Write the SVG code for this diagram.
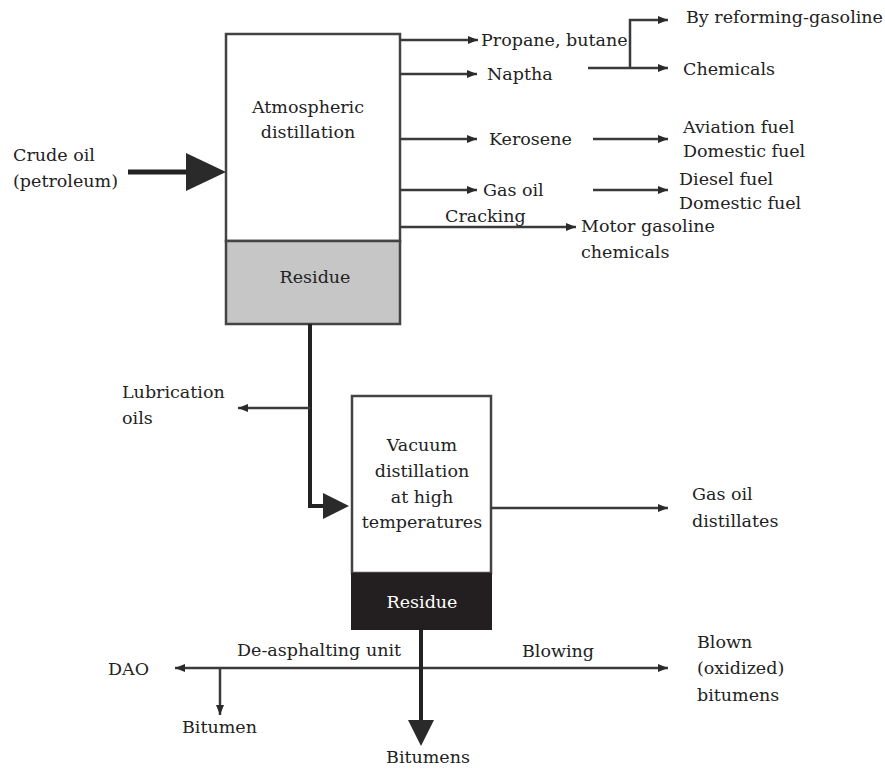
<svg xmlns="http://www.w3.org/2000/svg" width="885" height="769" viewBox="0 0 885 769">
<style>
text{font-family:"DejaVu Serif","Liberation Serif",serif;font-size:17.5px;fill:#222}
.c{text-anchor:middle}
.ln{stroke:#3a3a3a;stroke-width:2.5;fill:none}
.thk{stroke:#222;stroke-width:5;fill:none}
.box{stroke:#444;stroke-width:2.5}
.ah{fill:#2a2a2a}
</style>
<defs>
<marker id="a" viewBox="0 0 10 8" refX="10" refY="4" markerWidth="10" markerHeight="8" markerUnits="userSpaceOnUse" orient="auto">
<path d="M0,0 L10,4 L0,8 Z" fill="#2a2a2a"/>
</marker>
</defs>
<rect width="885" height="769" fill="#fff"/>

<g id="crude">
<text x="13" y="161">Crude oil</text>
<text x="13" y="187">(petroleum)</text>
</g>

<g id="atmospheric">
<rect class="box" x="226" y="34" width="174" height="207" fill="#fff"/>
<text class="c" x="308" y="113">Atmospheric</text>
<text class="c" x="308" y="138">distillation</text>
</g>
<g id="residue1">
<rect class="box" x="226" y="241" width="174" height="83" fill="#c6c6c6"/>
<text class="c" x="315" y="283">Residue</text>
</g>

<g id="products">
<text x="481" y="46">Propane, butane</text>
<text x="487" y="80">Naptha</text>
<text x="489" y="145">Kerosene</text>
<text x="483" y="196">Gas oil</text>
<text x="445" y="222">Cracking</text>
<text x="581" y="232">Motor gasoline</text>
<text x="581" y="258">chemicals</text>
<text x="686" y="23">By reforming-gasoline</text>
<text x="683" y="75">Chemicals</text>
<text x="683" y="133">Aviation fuel</text>
<text x="683" y="157">Domestic fuel</text>
<text x="679" y="185">Diesel fuel</text>
<text x="679" y="209">Domestic fuel</text>
</g>

<g id="lubrication">
<text x="122" y="398">Lubrication</text>
<text x="122" y="424">oils</text>
</g>

<g id="vacuum">
<rect class="box" x="352" y="396" width="139" height="177" fill="#fff"/>
<text class="c" x="422" y="451">Vacuum</text>
<text class="c" x="422" y="477">distillation</text>
<text class="c" x="422" y="503">at high</text>
<text class="c" x="422" y="528">temperatures</text>
</g>
<g id="residue2">
<rect x="351" y="573" width="141" height="57" fill="#231f20"/>
<text class="c" x="422" y="608" style="fill:#fff">Residue</text>
</g>

<g id="vacprod">
<text x="692" y="500">Gas oil</text>
<text x="692" y="527">distillates</text>
<text x="108" y="675">DAO</text>
<text x="237" y="656">De-asphalting unit</text>
<text x="182" y="733">Bitumen</text>
<text class="c" x="428" y="763">Bitumens</text>
<text x="522" y="657">Blowing</text>
<text x="697" y="648">Blown</text>
<text x="697" y="674">(oxidized)</text>
<text x="697" y="701">bitumens</text>
</g>

<g id="connectors">
<line class="thk" x1="128" y1="172" x2="188" y2="172"/>
<path class="ah" d="M186,153 L226,172 L186,191 Z"/>
<line class="ln" x1="400" y1="40" x2="478" y2="40" marker-end="url(#a)"/>
<line class="ln" x1="400" y1="74" x2="477" y2="74" marker-end="url(#a)"/>
<line class="ln" x1="400" y1="139" x2="477" y2="139" marker-end="url(#a)"/>
<line class="ln" x1="400" y1="190" x2="477" y2="190" marker-end="url(#a)"/>
<line class="ln" x1="400" y1="227" x2="576" y2="227" marker-end="url(#a)"/>
<polyline class="ln" points="588,68 630,68"/>
<polyline class="ln" points="630,68 630,20 668,20" marker-end="url(#a)"/>
<line class="ln" x1="630" y1="68" x2="668" y2="68" marker-end="url(#a)"/>
<line class="ln" x1="593" y1="139" x2="668" y2="139" marker-end="url(#a)"/>
<line class="ln" x1="593" y1="190" x2="668" y2="190" marker-end="url(#a)"/>
<polyline points="310,324 310,506 325,506" style="stroke:#222;stroke-width:4;fill:none"/>
<path class="ah" d="M323,493 L349,506 L323,519 Z"/>
<line class="ln" x1="310" y1="408" x2="238" y2="408" marker-end="url(#a)"/>
<line class="ln" x1="491" y1="508" x2="668" y2="508" marker-end="url(#a)"/>
<line class="ln" x1="420" y1="668" x2="175" y2="668" marker-end="url(#a)"/>
<line class="ln" x1="420" y1="668" x2="668" y2="668" marker-end="url(#a)"/>
<line class="ln" x1="220" y1="668" x2="220" y2="715" marker-end="url(#a)"/>
<line x1="421" y1="630" x2="421" y2="722" style="stroke:#222;stroke-width:4"/>
<path class="ah" d="M408,720 L421,746 L434,720 Z"/>
</g>
</svg>
